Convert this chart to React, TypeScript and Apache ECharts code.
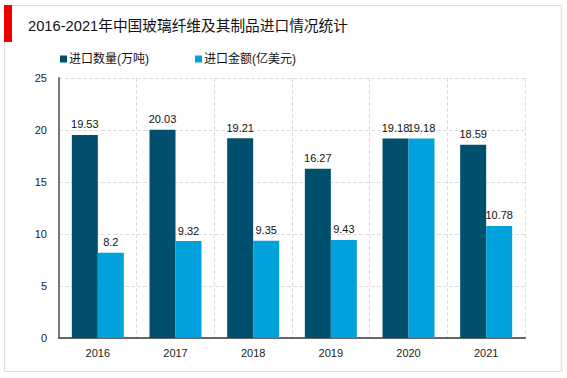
import React, { useEffect, useRef } from "react";
import * as echarts from "echarts";

const years = ["2016", "2017", "2018", "2019", "2020", "2021"];
const quantity = [19.53, 20.03, 19.21, 16.27, 19.18, 18.59];
const amount = [8.2, 9.32, 9.35, 9.43, 19.18, 10.78];
const titleText = "2016-2021年中国玻璃纤维及其制品进口情况统计";
const seriesNames = ["进口数量(万吨)", "进口金额(亿美元)"];

export default function App() {
  const ref = useRef<HTMLDivElement>(null);
  useEffect(() => {
    if (!ref.current) return;
    const chart = echarts.init(ref.current, undefined, { renderer: "svg" });
    const font = "'Liberation Sans', Arial, 'Noto Sans CJK SC', sans-serif";
    chart.setOption({
      animation: false,
      backgroundColor: "#fff",
      textStyle: { fontFamily: font },
      graphic: [
        {
          type: "rect",
          shape: { x: 4.5, y: 5.5, width: 557, height: 366 },
          style: { fill: "none", stroke: "#dcdcdc", lineWidth: 1 },
          silent: true,
        },
        {
          type: "rect",
          shape: { x: 4, y: 5, width: 8, height: 37 },
          style: { fill: "#ee0000" },
          silent: true,
        },
      ],
      title: {
        text: titleText,
        left: 23,
        top: 14,
        textStyle: { fontSize: 14.7, fontWeight: "normal", color: "#111", fontFamily: font },
      },
      legend: {
        data: seriesNames,
        left: 55,
        top: 48,
        icon: "rect",
        itemWidth: 7,
        itemHeight: 7,
        itemGap: 46,
        textStyle: { fontSize: 12, color: "#111", fontFamily: font, padding: [0, 0, 0, -3] },
      },
      grid: { left: 59, right: 42, top: 78, bottom: 40 },
      xAxis: {
        type: "category",
        data: years,
        axisLine: { lineStyle: { color: "#666", width: 2 } },
        axisTick: { show: false },
        axisLabel: { color: "#222", fontSize: 11, margin: 9 },
        splitLine: { show: true, lineStyle: { color: "#ddd", type: "dashed" } },
      },
      yAxis: {
        type: "value",
        min: 0,
        max: 25,
        interval: 5,
        axisLine: { show: true, lineStyle: { color: "#777", width: 2 } },
        axisTick: { show: false },
        axisLabel: { color: "#222", fontSize: 11, margin: 12 },
        splitLine: { show: true, lineStyle: { color: "#ddd", type: "dashed" } },
      },
      series: [
        {
          name: seriesNames[0],
          type: "bar",
          data: quantity,
          barWidth: 26,
          barGap: "0%",
          itemStyle: { color: "#004F6C" },
          label: { show: true, position: "top", distance: 5, color: "#111", fontSize: 11 },
        },
        {
          name: seriesNames[1],
          type: "bar",
          data: amount,
          barWidth: 26,
          barGap: "0%",
          itemStyle: { color: "#00A1DC" },
          label: { show: true, position: "top", distance: 5, color: "#111", fontSize: 11 },
        },
      ],
    });
    return () => chart.dispose();
  }, []);
  return (
    <div
      ref={ref}
      style={{ position: "fixed", left: 0, top: 0, width: 567, height: 378 }}
    />
  );
}
